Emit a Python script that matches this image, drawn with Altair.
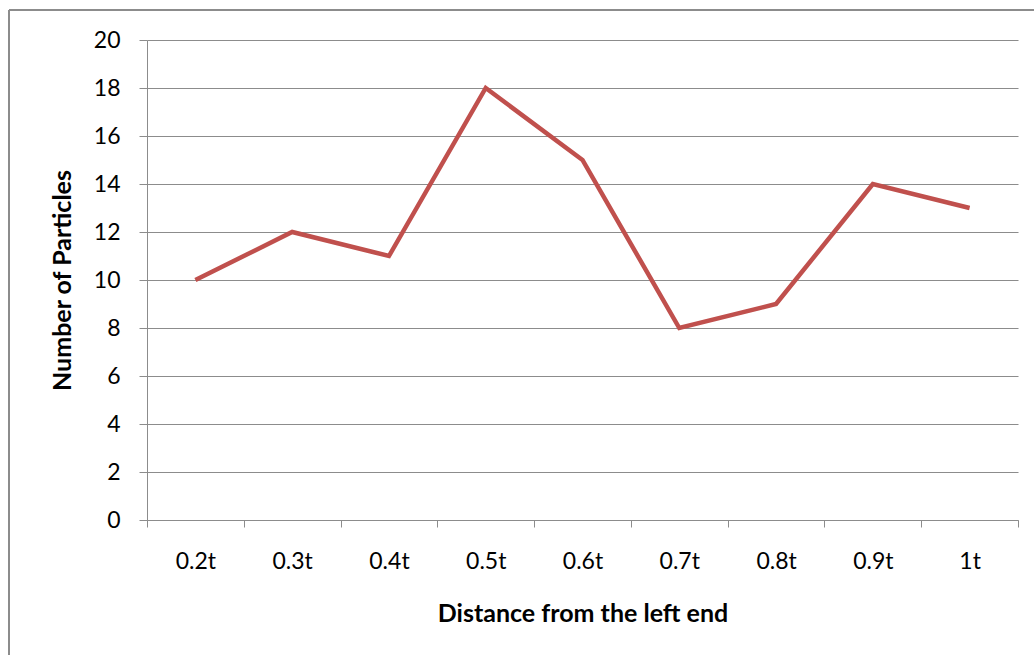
import altair as alt
import pandas as pd

# Particle counts along the rod
positions = ["0.2t", "0.3t", "0.4t", "0.5t", "0.6t", "0.7t", "0.8t", "0.9t", "1t"]
counts = [10, 12, 11, 18, 15, 8, 9, 14, 13]

df = pd.DataFrame({"pos": positions, "count": counts})

FONT = "Lato"
GRID = "#8c8c8c"
LABEL_SIZE = 23
TITLE_SIZE = 25

x_enc = alt.X(
    "pos:N",
    sort=positions,
    scale=alt.Scale(paddingInner=0, paddingOuter=0),
    axis=alt.Axis(
        title="Distance from the left end",
        labelAngle=0,
        tickBand="extent",
        grid=False,
        domainColor=GRID,
        tickColor=GRID,
        tickSize=7,
        labelPadding=23,
        labelFontSize=LABEL_SIZE,
        labelFont=FONT,
        labelColor="#000000",
        titleFont=FONT,
        titleFontSize=TITLE_SIZE,
        titleFontWeight="bold",
        titleColor="#000000",
        titleY=93,
        titleBaseline="middle",
    ),
)

y_enc = alt.Y(
    "count:Q",
    scale=alt.Scale(domain=[0, 20], nice=False),
    axis=alt.Axis(
        title="Number of Particles",
        values=list(range(0, 21, 2)),
        grid=True,
        gridColor=GRID,
        gridWidth=1.2,
        domainColor=GRID,
        tickColor=GRID,
        tickSize=8,
        labelPadding=19,
        labelFontSize=LABEL_SIZE,
        labelFont=FONT,
        labelColor="#000000",
        titleFont=FONT,
        titleFontSize=TITLE_SIZE,
        titleFontWeight="bold",
        titleColor="#000000",
        titleX=-85,
        titleY=240,
        titleBaseline="middle",
    ),
)

line = alt.Chart(df).mark_line(color="#C0504D", strokeWidth=4.5).encode(x=x_enc, y=y_enc)

# Outer chart frame
frame_left = alt.Chart(df).mark_rule(color=GRID, strokeWidth=2).encode(
    x=alt.value(-138), y=alt.value(-30), y2=alt.value(700)
)
frame_top = alt.Chart(df).mark_rule(color=GRID, strokeWidth=2).encode(
    x=alt.value(-138), x2=alt.value(1000), y=alt.value(-30)
)

chart = (
    alt.layer(line, frame_left, frame_top)
    .properties(
        width=871,
        height=480,
        autosize=alt.AutoSizeParams(type="none"),
        padding={"left": 147, "top": 40, "right": 16, "bottom": 135},
        background="white",
    )
    .configure_view(stroke=None)
)

chart.save("out.html", embed_options={"renderer": "svg", "actions": False})
